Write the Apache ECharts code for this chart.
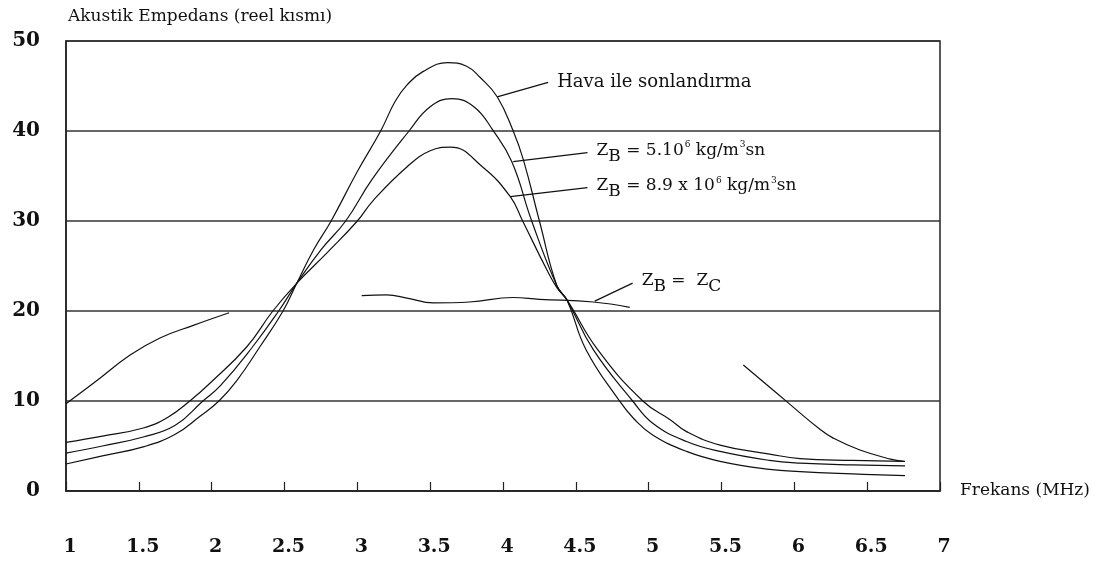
<!DOCTYPE html>
<html>
<head>
<meta charset="utf-8">
<script src="https://cdn.jsdelivr.net/npm/echarts@6/dist/echarts.min.js"></script>
<style>
  html, body { margin: 0; padding: 0; background: #fff; }
  #chart { width: 1107px; height: 565px; }
</style>
</head>
<body>
<div id="chart"></div>
<script>
// Axis settings
const xMin = 1, xMax = 7, xStep = 0.5;
const yMin = 0, yMax = 50, yStep = 10;
const yAxisTitle = 'Akustik Empedans (reel kısmı)';
const xAxisTitle = 'Frekans (MHz)';

// Real part of the acoustic impedance vs. frequency [MHz, value]
const havaIle = [
  [1.0, 3.0], [1.25, 3.9], [1.53, 4.9], [1.75, 6.3], [1.92, 8.3], [2.05, 10.0],
  [2.17, 12.2], [2.33, 16.0], [2.49, 20.0], [2.585, 23.1], [2.7, 26.8], [2.82, 30.0],
  [3.0, 35.5], [3.16, 40.0], [3.26, 43.3], [3.34, 45.1], [3.45, 46.6], [3.62, 47.6],
  [3.75, 47.2], [3.84, 46.0], [3.96, 43.8], [4.07, 40.0], [4.14, 36.8], [4.25, 30.0],
  [4.37, 22.8], [4.44, 21.2], [4.57, 15.7], [4.8, 10.0], [4.9, 8.0], [5.03, 6.2],
  [5.26, 4.4], [5.49, 3.3], [5.83, 2.4], [6.04, 2.15], [6.4, 1.9], [6.76, 1.7]
];
const zb510 = [
  [1.0, 4.2], [1.25, 5.0], [1.53, 6.0], [1.75, 7.3], [1.94, 10.0], [2.06, 11.7],
  [2.28, 16.0], [2.46, 20.0], [2.585, 23.1], [2.75, 26.8], [2.92, 30.0], [3.1, 34.6],
  [3.355, 40.0], [3.5, 42.7], [3.65, 43.6], [3.8, 42.7], [3.93, 40.1], [4.06, 36.6],
  [4.197, 30.0], [4.37, 22.8], [4.44, 21.2], [4.62, 15.7], [4.89, 10.0], [5.03, 7.5],
  [5.26, 5.5], [5.49, 4.4], [5.83, 3.4], [6.04, 3.1], [6.4, 2.9], [6.76, 2.8]
];
const zb89 = [
  [1.0, 5.4], [1.25, 6.1], [1.53, 7.0], [1.7, 8.2], [1.85, 10.0], [1.99, 12.0],
  [2.24, 16.0], [2.42, 20.0], [2.585, 23.1], [2.8, 26.6], [3.0, 30.0], [3.11, 32.3],
  [3.34, 36.0], [3.5, 37.8], [3.64, 38.2], [3.86, 36.0], [4.05, 32.7], [4.135, 30.0],
  [4.3, 24.6], [4.37, 22.6], [4.44, 21.2], [4.65, 15.7], [4.96, 10.0], [5.15, 7.9],
  [5.26, 6.6], [5.49, 5.1], [5.83, 4.1], [6.04, 3.6], [6.4, 3.4], [6.76, 3.3]
];
// Z_B = Z_C, drawn in three separate pieces
const zbzcA = [[1.0, 9.7], [1.19, 12.0], [1.44, 15.1], [1.645, 17.0], [1.874, 18.4], [2.12, 19.8]];
const zbzcB = [[3.03, 21.7], [3.2, 21.8], [3.35, 21.4], [3.52, 20.9], [3.77, 21.0],
               [4.07, 21.5], [4.25, 21.3], [4.62, 21.0], [4.87, 20.4]];
const zbzcC = [[5.65, 14.0], [5.95, 9.9], [6.18, 6.8], [6.27, 5.85], [6.45, 4.55], [6.66, 3.55], [6.75, 3.3]];

// Callout leaders: from a point on the curve to where the caption starts
const leaderHava = [[3.96, 43.8], [4.31, 45.4]];
const leader510 = [[4.07, 36.6], [4.58, 37.6]];
const leader89 = [[4.05, 32.7], [4.58, 33.7]];
const leaderZc = [[4.63, 21.1], [4.89, 23.1]];

const captionHava = 'Hava ile sonlandırma';
const caption510 = '{z|Z}{s|B}{t| = 5.10}{p|6}{t| kg/m}{p|3}{t|sn}';
const caption89 = '{z|Z}{s|B}{t| = 8.9 x 10}{p|6}{t| kg/m}{p|3}{t|sn}';
const captionZc = '{z|Z}{s|B}{t| =  Z}{s|C}';

const SERIF = '"DejaVu Serif", "Liberation Serif", serif';
const INK = '#111';

const richStyles = {
  z: { fontFamily: SERIF, fontSize: 17, color: INK, verticalAlign: 'bottom', padding: [0, 0, 6, 0] },
  t: { fontFamily: SERIF, fontSize: 17, color: INK, verticalAlign: 'bottom', padding: [0, 0, 6, 0] },
  s: { fontFamily: SERIF, fontSize: 17, color: INK, verticalAlign: 'bottom', padding: [0, 0, 0, 0] },
  p: { fontFamily: SERIF, fontSize: 9, color: INK, verticalAlign: 'bottom', padding: [0, 0, 15, 1] }
};

function curve(name, data) {
  return {
    name, type: 'line', data, smooth: 0.45,
    symbol: 'none', silent: true,
    lineStyle: { color: INK, width: 1.2 }
  };
}

function leader(name, data, text, size) {
  return {
    name, type: 'line', data, symbol: 'none', silent: true,
    lineStyle: { color: INK, width: 1.2 },
    endLabel: {
      show: true, formatter: () => text, distance: 9,
      fontFamily: SERIF, fontSize: size, color: INK,
      rich: richStyles
    }
  };
}

const chart = echarts.init(document.getElementById('chart'), null, { renderer: 'canvas' });
chart.setOption({
  animation: false,
  backgroundColor: '#fff',
  grid: {
    left: 66, right: 167, top: 41, bottom: 74,
    show: true, borderColor: '#222', borderWidth: 1.5, backgroundColor: 'transparent'
  },
  xAxis: {
    type: 'value', min: xMin, max: xMax, interval: xStep,
    name: xAxisTitle, nameLocation: 'end', nameGap: 20,
    nameTextStyle: { fontFamily: SERIF, fontSize: 17, color: INK, verticalAlign: 'middle' },
    axisLine: { show: true, lineStyle: { color: '#222', width: 1.5 } },
    axisTick: { show: true, inside: true, length: 9, lineStyle: { color: '#222', width: 1.2 } },
    axisLabel: {
      margin: 47, fontFamily: SERIF, fontSize: 19, fontWeight: 'bold', color: INK,
      padding: [0, 0, 0, 8], showMinLabel: true, showMaxLabel: true,
      formatter: v => String(v)
    },
    splitLine: { show: false }
  },
  yAxis: {
    type: 'value', min: yMin, max: yMax, interval: yStep,
    name: yAxisTitle, nameLocation: 'end', nameGap: 16,
    nameTextStyle: { fontFamily: SERIF, fontSize: 17, color: INK, align: 'left', padding: [0, 0, 0, 2] },
    axisLine: { show: true, lineStyle: { color: '#222', width: 1.5 } },
    axisTick: { show: false },
    axisLabel: { margin: 26, fontFamily: SERIF, fontSize: 20, fontWeight: 'bold', color: INK },
    splitLine: { show: true, lineStyle: { color: '#333', width: 1.5 } }
  },
  series: [
    curve('Hava ile sonlandırma', havaIle),
    curve('ZB = 5.10e6', zb510),
    curve('ZB = 8.9e6', zb89),
    curve('ZB = ZC (a)', zbzcA),
    curve('ZB = ZC (b)', zbzcB),
    curve('ZB = ZC (c)', zbzcC),
    leader('leader hava', leaderHava, captionHava, 18),
    leader('leader 5.10', leader510, caption510, 17),
    leader('leader 8.9', leader89, caption89, 17),
    leader('leader zc', leaderZc, captionZc, 17)
  ]
});
</script>
</body>
</html>
